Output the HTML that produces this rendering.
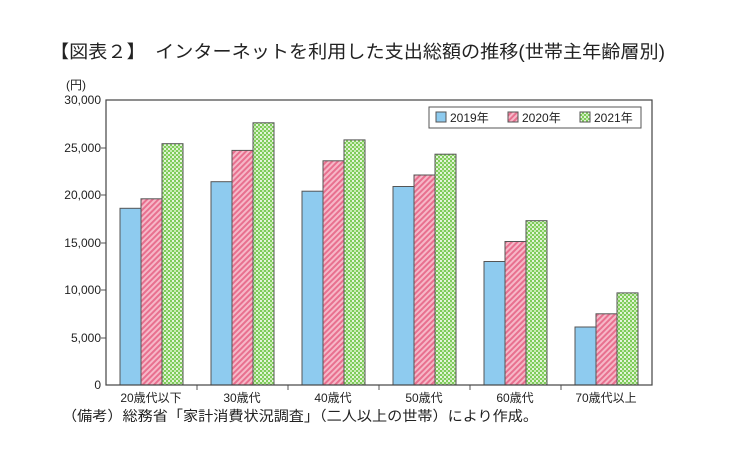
<!DOCTYPE html><html><head><meta charset="utf-8"><style>body{margin:0;background:#fff}</style></head><body>
<svg width="730" height="464" xmlns="http://www.w3.org/2000/svg" font-family="Liberation Sans, Noto Sans CJK JP, sans-serif">
<defs>
<pattern id="p" width="4" height="4" patternUnits="userSpaceOnUse" patternTransform="rotate(45)"><rect width="4" height="4" fill="#f6b8c8"/><rect width="2" height="4" fill="#e8708f"/></pattern>
<pattern id="g" width="4" height="4" patternUnits="userSpaceOnUse"><rect width="4" height="4" fill="#7fcc5a"/><rect x="0" y="0" width="2" height="2" fill="#e6f5dc"/><rect x="2" y="2" width="2" height="2" fill="#c7ebb3"/></pattern>
</defs>
<text x="50" y="58" font-size="18" fill="#222" textLength="615" lengthAdjust="spacingAndGlyphs">【図表２】　インターネットを利用した支出総額の推移(世帯主年齢層別)</text>
<text x="66" y="89" font-size="12" fill="#222">(円)</text>
<g font-size="12" fill="#222" text-anchor="end">
<text x="101" y="104">30,000</text><text x="101" y="152">25,000</text><text x="101" y="199">20,000</text><text x="101" y="247">15,000</text><text x="101" y="294">10,000</text><text x="101" y="342">5,000</text><text x="101" y="389">0</text>
</g>
<g stroke="#555" stroke-width="1">
<line x1="101" y1="148" x2="106" y2="148"/><line x1="101" y1="195" x2="106" y2="195"/><line x1="101" y1="243" x2="106" y2="243"/><line x1="101" y1="290" x2="106" y2="290"/><line x1="101" y1="338" x2="106" y2="338"/>
<line x1="197" y1="385" x2="197" y2="390"/><line x1="288" y1="385" x2="288" y2="390"/><line x1="379" y1="385" x2="379" y2="390"/><line x1="470" y1="385" x2="470" y2="390"/><line x1="561" y1="385" x2="561" y2="390"/>
</g>
<g stroke="#555" stroke-width="1">
<rect x="120" y="208.3" width="21" height="176.7" fill="#8ecbef"/><rect x="141" y="198.8" width="21" height="186.2" fill="url(#p)"/><rect x="162" y="143.7" width="21" height="241.3" fill="url(#g)"/>
<rect x="211" y="181.7" width="21" height="203.3" fill="#8ecbef"/><rect x="232" y="150.4" width="21" height="234.6" fill="url(#p)"/><rect x="253" y="122.8" width="21" height="262.2" fill="url(#g)"/>
<rect x="302" y="191.2" width="21" height="193.8" fill="#8ecbef"/><rect x="323" y="160.8" width="21" height="224.2" fill="url(#p)"/><rect x="344" y="139.9" width="21" height="245.1" fill="url(#g)"/>
<rect x="393" y="186.5" width="21" height="198.5" fill="#8ecbef"/><rect x="414" y="175" width="21" height="210" fill="url(#p)"/><rect x="435" y="154.2" width="21" height="230.8" fill="url(#g)"/>
<rect x="484" y="261.5" width="21" height="123.5" fill="#8ecbef"/><rect x="505" y="241.5" width="21" height="143.5" fill="url(#p)"/><rect x="526" y="220.7" width="21" height="164.3" fill="url(#g)"/>
<rect x="575" y="327" width="21" height="58" fill="#8ecbef"/><rect x="596" y="313.8" width="21" height="71.2" fill="url(#p)"/><rect x="617" y="292.9" width="21" height="92.1" fill="url(#g)"/>
</g>
<rect x="106" y="100" width="546" height="285" fill="none" stroke="#444" stroke-width="1.2"/>
<rect x="429" y="107" width="212" height="21" fill="#fff" stroke="#555"/>
<rect x="436" y="112" width="10" height="10" fill="#8ecbef" stroke="#555"/><text x="450" y="122" font-size="12" fill="#222">2019年</text>
<rect x="508" y="112" width="10" height="10" fill="url(#p)" stroke="#555"/><text x="522" y="122" font-size="12" fill="#222">2020年</text>
<rect x="580" y="112" width="10" height="10" fill="url(#g)" stroke="#555"/><text x="594" y="122" font-size="12" fill="#222">2021年</text>
<g font-size="12" fill="#222" text-anchor="middle">
<text x="151" y="402">20歳代以下</text><text x="242" y="402">30歳代</text><text x="333" y="402">40歳代</text><text x="424" y="402">50歳代</text><text x="515" y="402">60歳代</text><text x="606" y="402">70歳代以上</text>
</g>
<text x="62" y="421" font-size="14" fill="#222" textLength="476" lengthAdjust="spacingAndGlyphs">（備考）総務省「家計消費状況調査」（二人以上の世帯）により作成。</text>
</svg>
</body></html>
